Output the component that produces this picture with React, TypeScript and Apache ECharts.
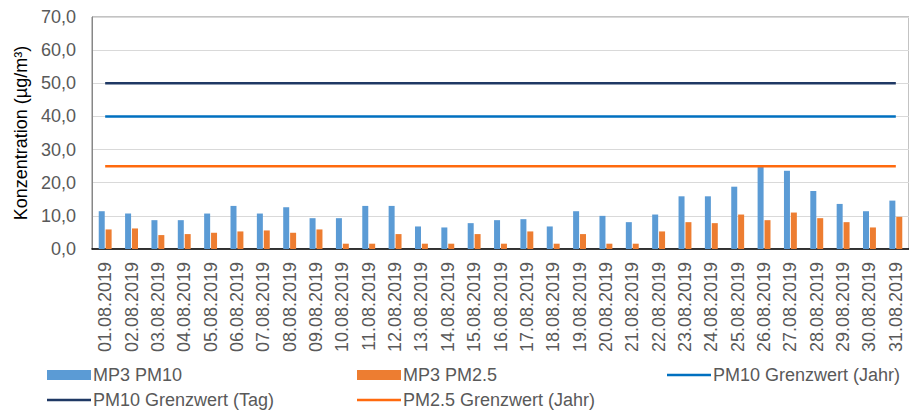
import React, { useEffect, useRef } from "react";
import * as echarts from "echarts";

const categories = [
  "01.08.2019", "02.08.2019", "03.08.2019", "04.08.2019", "05.08.2019", "06.08.2019",
  "07.08.2019", "08.08.2019", "09.08.2019", "10.08.2019", "11.08.2019", "12.08.2019",
  "13.08.2019", "14.08.2019", "15.08.2019", "16.08.2019", "17.08.2019", "18.08.2019",
  "19.08.2019", "20.08.2019", "21.08.2019", "22.08.2019", "23.08.2019", "24.08.2019",
  "25.08.2019", "26.08.2019", "27.08.2019", "28.08.2019", "29.08.2019", "30.08.2019",
  "31.08.2019",
];

const pm10 = [
  11.4, 10.7, 8.7, 8.7, 10.7, 13.0, 10.7, 12.6, 9.3, 9.3, 13.0, 13.0, 6.8, 6.5, 7.8, 8.7,
  9.0, 6.8, 11.4, 10.0, 8.1, 10.4, 15.9, 15.9, 18.8, 24.8, 23.6, 17.5, 13.6, 11.4, 14.6,
];

const pm25 = [
  5.9, 6.2, 4.2, 4.5, 4.9, 5.3, 5.6, 4.9, 5.9, 1.6, 1.6, 4.5, 1.6, 1.6, 4.5, 1.6,
  5.3, 1.6, 4.5, 1.6, 1.6, 5.3, 8.1, 7.8, 10.4, 8.7, 11.0, 9.3, 8.1, 6.5, 9.7,
];

const pm10LimitYear = 40;
const pm10LimitDay = 50;
const pm25LimitYear = 25;

const seriesNames = [
  "MP3 PM10",
  "MP3 PM2.5",
  "PM10 Grenzwert (Jahr)",
  "PM10 Grenzwert (Tag)",
  "PM2.5 Grenzwert (Jahr)",
];

const yTicks = [0, 10, 20, 30, 40, 50, 60, 70];

const FONT = "'Liberation Sans', Arial, sans-serif";
const TXT = "#595959";

export default function App() {
  const ref = useRef<HTMLDivElement>(null);
  useEffect(() => {
    if (!ref.current) return;
    const chart = echarts.init(ref.current, undefined, { renderer: "svg" });
    const legendBase = {
      orient: "horizontal" as const,
      itemWidth: 44,
      itemGap: 4,
      icon: "rect",
      textStyle: { fontFamily: FONT, fontSize: 18, color: TXT, padding: [0, 0, 0, -3] },
      padding: 0,
    };
    // [name, left, centerY, iconHeight]
    const legendPos: [string, number, number, number][] = [
      [seriesNames[0], 47, 376, 10],
      [seriesNames[1], 357, 376, 10],
      [seriesNames[2], 667, 376, 2.5],
      [seriesNames[3], 47, 401, 2.5],
      [seriesNames[4], 357, 401, 2.5],
    ];
    const flat = (v: number) => categories.map(() => v);
    chart.setOption({
      animation: false,
      backgroundColor: "#ffffff",
      textStyle: { fontFamily: FONT },
      grid: {
        left: 92,
        top: 17,
        right: -3,
        height: 232,
        show: true,
        borderColor: "#878787",
        borderWidth: 1,
        containLabel: false,
      },
      legend: legendPos.map(([name, x, cy, h]) => ({
        ...legendBase,
        itemHeight: h,
        data: [name],
        left: x,
        top: cy - 10,
        height: 20,
      })),
      xAxis: {
        type: "category",
        data: categories,
        boundaryGap: true,
        axisLine: { show: true, lineStyle: { color: "#000000", width: 1.5 } },
        axisTick: { show: false },
        axisLabel: {
          rotate: 90,
          interval: 0,
          fontFamily: FONT,
          fontSize: 18,
          color: TXT,
          margin: 13,
        },
      },
      yAxis: {
        type: "value",
        min: 0,
        max: 70,
        interval: 10,
        name: "Konzentration (µg/m³)",
        nameLocation: "middle",
        nameGap: 62,
        nameTextStyle: { fontFamily: FONT, fontSize: 18, color: "#000000" },
        axisLine: { show: true, lineStyle: { color: "#878787", width: 1 } },
        axisTick: { show: false },
        axisLabel: {
          fontFamily: FONT,
          fontSize: 18,
          color: TXT,
          margin: 16,
          formatter: (v: number) =>
            yTicks.includes(v) ? v.toFixed(1).replace(".", ",") : "",
        },
        splitLine: { show: true, lineStyle: { color: "#d9d9d9", width: 1 } },
      },
      series: [
        {
          name: seriesNames[0],
          type: "bar",
          data: pm10,
          barWidth: 6,
          barGap: "15%",
          itemStyle: { color: "#5b9bd5" },
        },
        {
          name: seriesNames[1],
          type: "bar",
          data: pm25,
          barWidth: 6,
          barGap: "15%",
          itemStyle: { color: "#ed7d31" },
        },
        {
          name: seriesNames[2],
          type: "line",
          data: flat(pm10LimitYear),
          symbol: "none",
          lineStyle: { color: "#0070c0", width: 2.5 },
          itemStyle: { color: "#0070c0" },
          z: 3,
        },
        {
          name: seriesNames[3],
          type: "line",
          data: flat(pm10LimitDay),
          symbol: "none",
          lineStyle: { color: "#1f3864", width: 2.5 },
          itemStyle: { color: "#1f3864" },
          z: 3,
        },
        {
          name: seriesNames[4],
          type: "line",
          data: flat(pm25LimitYear),
          symbol: "none",
          lineStyle: { color: "#ff6a0e", width: 2.5 },
          itemStyle: { color: "#ff6a0e" },
          z: 3,
        },
      ],
    });
    return () => chart.dispose();
  }, []);
  return <div ref={ref} style={{ width: 909, height: 413, position: "absolute", left: 0, top: 0 }} />;
}
